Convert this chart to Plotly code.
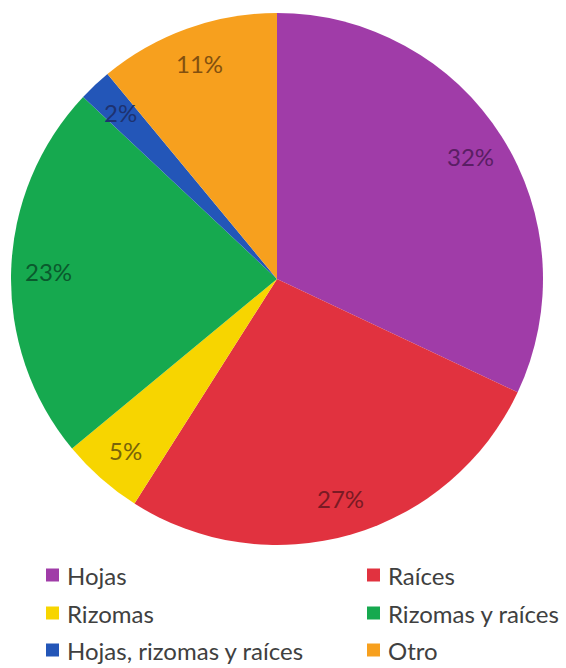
import math
import plotly.graph_objects as go

# Plant parts used (share of responses, %)
labels = ["Hojas", "Raíces", "Rizomas", "Rizomas y raíces", "Hojas, rizomas y raíces", "Otro"]
values = [32, 27, 5, 23, 2, 11]

slice_colors = ["#A03CA8", "#E1323F", "#F7D500", "#16A94F", "#2356B8", "#F7A01E"]
label_colors = ["#5A1E64", "#7A1A24", "#78640A", "#0A5A2D", "#1E3270", "#82500F"]

W, H = 566, 668
CX, CY, R = 277, 279, 266          # pie centre / radius in pixels
FONT = "Lato, 'Open Sans', sans-serif"

fig = go.Figure(
    go.Pie(
        labels=labels,
        values=values,
        sort=False,
        direction="clockwise",
        rotation=0,
        marker=dict(colors=slice_colors, line=dict(width=0)),
        textinfo="none",
        showlegend=False,
        domain=dict(x=[(CX - R) / W, (CX + R) / W], y=[1 - (CY + R) / H, 1 - (CY - R) / H]),
    )
)

# percentage labels near the outer edge of each slice
total = sum(values)
cum = 0
annotations = []
for v, c in zip(values, label_colors):
    mid = (cum + v / 2) / total * 2 * math.pi
    cum += v
    px = CX + 0.86 * R * math.sin(mid)
    py = CY - 0.86 * R * math.cos(mid)
    annotations.append(dict(
        x=px / W, y=1 - py / H, xref="paper", yref="paper",
        text=f"{round(v / total * 100)}%", showarrow=False,
        font=dict(family=FONT, size=24, color=c),
        xanchor="center", yanchor="middle",
    ))

# two-column legend below the pie
shapes = []
col_x = [46, 367]
row_y = [575, 613, 650]
SQ = 13
for i, (lab, col) in enumerate(zip(labels, slice_colors)):
    x0 = col_x[i % 2]
    yc = row_y[i // 2]
    shapes.append(dict(
        type="rect", xref="paper", yref="paper",
        x0=x0 / W, x1=(x0 + SQ) / W,
        y0=1 - (yc + SQ / 2) / H, y1=1 - (yc - SQ / 2) / H,
        fillcolor=col, line=dict(width=0),
    ))
    annotations.append(dict(
        x=(x0 + SQ + 7) / W, y=1 - yc / H, xref="paper", yref="paper",
        text=lab, showarrow=False, xanchor="left", yanchor="middle",
        borderpad=0,
        font=dict(family=FONT, size=24, color="#404040"),
    ))

fig.update_layout(
    width=W, height=H,
    margin=dict(l=0, r=0, t=0, b=0),
    paper_bgcolor="white",
    plot_bgcolor="white",
    annotations=annotations,
    shapes=shapes,
)

fig.write_html("out.html")
